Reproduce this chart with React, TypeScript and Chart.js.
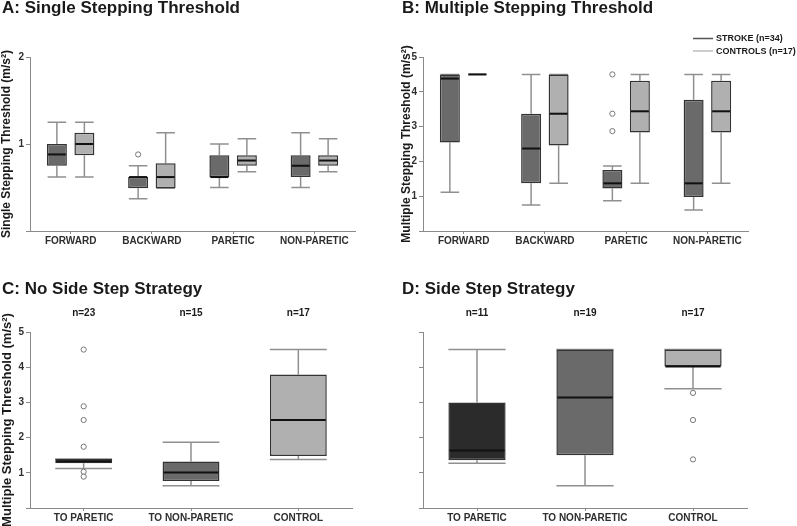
import React, { useEffect, useRef } from 'react';
import { Chart, registerables } from 'chart.js';

Chart.register(...registerables);

const FONT = "'Liberation Sans', Arial, Helvetica, sans-serif";
const AXIS = '#8a8a8a';
const TEXT = '#1a1a1a';
const TICK_TEXT = '#2e2e2e';
const WHISKER = '#909090';
const BOX_BORDER = '#333333';
const STROKE_FILL = '#6a6a6a';
const CONTROL_FILL = '#b0b0b0';
const BLACK_FILL = '#2b2b2b';

// ---------- DATA: each box is [min, q1, median, q3, max] ----------
const A_CATEGORIES = ['FORWARD', 'BACKWARD', 'PARETIC', 'NON-PARETIC'];
const A_STROKE = [
  [0.62, 0.75, 0.88, 1.0, 1.25],
  [0.37, 0.49, 0.62, 0.62, 0.75],
  [0.5, 0.62, 0.62, 0.87, 1.0],
  [0.5, 0.62, 0.75, 0.87, 1.13],
];
const A_STROKE_OUTLIERS = [[], [0.88], [], []];
const A_CONTROLS = [
  [0.62, 0.87, 1.0, 1.13, 1.25],
  [0.49, 0.49, 0.62, 0.78, 1.13],
  [0.68, 0.75, 0.81, 0.87, 1.06],
  [0.68, 0.75, 0.81, 0.87, 1.06],
];
const A_CONTROLS_OUTLIERS = [[], [], [], []];

const B_CATEGORIES = ['FORWARD', 'BACKWARD', 'PARETIC', 'NON-PARETIC'];
const B_STROKE = [
  [1.11, 2.54, 4.38, 4.5, 4.5],
  [0.75, 1.37, 2.37, 3.37, 4.5],
  [0.87, 1.22, 1.37, 1.75, 1.87],
  [0.6, 0.98, 1.37, 3.77, 4.5],
];
const B_STROKE_OUTLIERS = [[], [], [4.5, 3.37, 2.87], []];
const B_CONTROLS = [
  [4.5, 4.5, 4.5, 4.5, 4.5],
  [1.37, 2.46, 3.37, 4.5, 4.5],
  [1.37, 2.83, 3.44, 4.32, 4.5],
  [1.37, 2.83, 3.44, 4.32, 4.5],
];
const B_CONTROLS_OUTLIERS = [[], [], [], []];

const LEGEND_LABELS = ['STROKE (n=34)', 'CONTROLS (n=17)'];

const C_CATEGORIES = ['TO PARETIC', 'TO NON-PARETIC', 'CONTROL'];
const C_COUNTS = ['n=23', 'n=15', 'n=17'];
const C_BOXES = [
  [1.12, 1.27, 1.33, 1.39, 1.39],
  [0.63, 0.77, 1.01, 1.32, 1.87],
  [1.38, 1.48, 2.5, 3.79, 4.5],
];
const C_OUTLIERS = [[4.5, 2.89, 2.5, 1.74, 1.03, 0.89], [], []];

const D_CATEGORIES = ['TO PARETIC', 'TO NON-PARETIC', 'CONTROL'];
const D_COUNTS = ['n=11', 'n=19', 'n=17'];
const D_BOXES = [
  [1.27, 1.36, 1.63, 3.0, 4.5],
  [0.63, 1.5, 3.14, 4.5, 4.5],
  [3.39, 4.02, 4.02, 4.5, 4.5],
];
const D_OUTLIERS = [[], [], [3.27, 2.5, 1.38]];

// ---------- plugins ----------
const boxPlugin = {
  id: 'boxWhisker',
  beforeDatasetsDraw(chart: any) {
    const { ctx } = chart;
    const ys = chart.scales.y;
    chart.data.datasets.forEach((ds: any, i: number) => {
      const meta = chart.getDatasetMeta(i);
      ds.stats.forEach((s: number[], j: number) => {
        const el: any = meta.data[j];
        if (!el) return;
        const x = el.x;
        const w = el.width * (ds.capRatio || 1);
        const pMin = ys.getPixelForValue(s[0]);
        const pQ1 = ys.getPixelForValue(s[1]);
        const pQ3 = ys.getPixelForValue(s[3]);
        const pMax = ys.getPixelForValue(s[4]);
        ctx.save();
        ctx.strokeStyle = WHISKER;
        ctx.lineWidth = 1.5;
        ctx.beginPath();
        ctx.moveTo(x, pQ3);
        ctx.lineTo(x, pMax);
        ctx.moveTo(x - w / 2, pMax);
        ctx.lineTo(x + w / 2, pMax);
        ctx.moveTo(x, pQ1);
        ctx.lineTo(x, pMin);
        ctx.moveTo(x - w / 2, pMin);
        ctx.lineTo(x + w / 2, pMin);
        ctx.stroke();
        ctx.restore();
      });
    });
  },
  afterDatasetsDraw(chart: any) {
    const { ctx } = chart;
    const ys = chart.scales.y;
    chart.data.datasets.forEach((ds: any, i: number) => {
      const meta = chart.getDatasetMeta(i);
      ds.stats.forEach((s: number[], j: number) => {
        const el: any = meta.data[j];
        if (!el) return;
        const x = el.x;
        const w = el.width;
        const pMed = ys.getPixelForValue(s[2]);
        ctx.save();
        ctx.strokeStyle = '#111111';
        ctx.lineWidth = 2;
        ctx.beginPath();
        ctx.moveTo(x - w / 2 + 1, pMed);
        ctx.lineTo(x + w / 2 - 1, pMed);
        ctx.stroke();
        const outs: number[] = (ds.outliers && ds.outliers[j]) || [];
        ctx.strokeStyle = '#777777';
        ctx.fillStyle = '#ffffff';
        ctx.lineWidth = 1;
        outs.forEach((v) => {
          ctx.beginPath();
          ctx.arc(x, ys.getPixelForValue(v), 2.6, 0, Math.PI * 2);
          ctx.fill();
          ctx.stroke();
        });
        ctx.restore();
      });
    });
  },
};

const lineLegendPlugin = {
  id: 'lineLegend',
  afterDraw(chart: any, _args: any, opts: any) {
    if (!opts || !opts.show) return;
    const { ctx, chartArea } = chart;
    chart.data.datasets.forEach((ds: any, i: number) => {
      const yy = chartArea.top - 18.5 + i * 12.5;
      const x0 = chartArea.right - 55;
      ctx.save();
      ctx.strokeStyle = ds.legendColor;
      ctx.lineWidth = 1.5;
      ctx.beginPath();
      ctx.moveTo(x0, yy);
      ctx.lineTo(x0 + 20, yy);
      ctx.stroke();
      ctx.fillStyle = TEXT;
      ctx.font = `bold 9px ${FONT}`;
      ctx.textBaseline = 'middle';
      ctx.textAlign = 'left';
      ctx.fillText(ds.label, x0 + 23, yy + 0.5);
      ctx.restore();
    });
  },
};

// ---------- config helpers ----------
function yScale(max: number, showLabels: boolean, width: number, title?: string, titleSize = 12) {
  return {
    type: 'linear',
    min: 0,
    max,
    ticks: {
      stepSize: 1,
      color: TICK_TEXT,
      padding: 2,
      font: { size: 10, weight: 'bold', family: FONT },
      callback: (v: any) => (showLabels && v !== 0 ? String(v) : ''),
    },
    grid: { display: true, drawOnChartArea: false, drawTicks: true, tickLength: 4, color: AXIS },
    border: { display: true, color: AXIS, width: 1 },
    title: title
      ? {
          display: true,
          text: title,
          color: TEXT,
          font: { size: titleSize, weight: 'bold', family: FONT, lineHeight: 1 },
          padding: { top: -1, bottom: 0 },
        }
      : { display: false },
    afterFit: (s: any) => {
      s.width = width;
    },
  };
}

function xScale(height: number) {
  return {
    type: 'category',
    offset: true,
    ticks: {
      color: TICK_TEXT,
      padding: 1.5,
      maxRotation: 0,
      autoSkip: false,
      font: { size: 10, weight: 'bold', family: FONT },
    },
    grid: { display: true, offset: false, drawOnChartArea: false, drawTicks: true, tickLength: 3, color: AXIS },
    border: { display: true, color: AXIS, width: 1 },
    afterFit: (s: any) => {
      s.height = height;
    },
  };
}

function countScale(labels: string[], height: number) {
  return {
    type: 'category',
    position: 'top',
    labels,
    offset: true,
    ticks: {
      color: TEXT,
      padding: 12.5,
      maxRotation: 0,
      autoSkip: false,
      font: { size: 10, weight: 'bold', family: FONT },
    },
    grid: { display: false, drawTicks: false },
    border: { display: false },
    afterFit: (s: any) => {
      s.height = height;
    },
  };
}

function titleOpts(text: string, bottom: number) {
  return {
    display: true,
    text,
    align: 'start',
    color: TEXT,
    font: { size: 17, weight: 'bold', family: FONT, lineHeight: 0.8 },
    padding: { top: 2, bottom },
  };
}

function groupedConfig(
  title: string,
  categories: string[],
  stroke: number[][],
  strokeOut: number[][],
  controls: number[][],
  controlsOut: number[][],
  yMax: number,
  yTitle: string,
  yWidth: number,
  padRight: number,
  showLegend: boolean
) {
  return {
    type: 'bar',
    data: {
      labels: categories,
      datasets: [
        {
          label: LEGEND_LABELS[0],
          data: stroke.map((s) => [s[1], s[3]]),
          stats: stroke,
          outliers: strokeOut,
          capRatio: 0.93,
          legendColor: '#555555',
          backgroundColor: STROKE_FILL,
          borderColor: BOX_BORDER,
          borderWidth: 1.5,
          borderSkipped: false,
          categoryPercentage: 0.677,
          barPercentage: 0.727,
        },
        {
          label: LEGEND_LABELS[1],
          data: controls.map((s) => [s[1], s[3]]),
          stats: controls,
          outliers: controlsOut,
          capRatio: 0.93,
          legendColor: '#bdbdbd',
          backgroundColor: CONTROL_FILL,
          borderColor: BOX_BORDER,
          borderWidth: 1.5,
          borderSkipped: false,
          categoryPercentage: 0.677,
          barPercentage: 0.727,
        },
      ],
    },
    options: {
      responsive: false,
      maintainAspectRatio: false,
      animation: false,
      layout: { padding: { left: 2, right: padRight, top: 0, bottom: 0 } },
      scales: {
        x: xScale(31),
        y: yScale(yMax, yWidth > 0, yWidth, yTitle, 12),
      },
      plugins: {
        legend: { display: false },
        tooltip: { enabled: false },
        title: titleOpts(title, 41.4),
        lineLegend: { show: showLegend },
      },
    },
    plugins: [boxPlugin, lineLegendPlugin],
  };
}

function singleConfig(
  title: string,
  categories: string[],
  counts: string[],
  boxes: number[][],
  outliers: number[][],
  showYLabels: boolean,
  yTitle: string | undefined,
  yWidth: number,
  padRight: number
) {
  return {
    type: 'bar',
    data: {
      labels: categories,
      datasets: [
        {
          label: 'boxes',
          data: boxes.map((s) => [s[1], s[3]]),
          stats: boxes,
          outliers,
          capRatio: 1,
          backgroundColor: [BLACK_FILL, STROKE_FILL, CONTROL_FILL],
          borderColor: BOX_BORDER,
          borderWidth: 1.5,
          borderSkipped: false,
          categoryPercentage: 1,
          barPercentage: 0.53,
          xAxisID: 'x',
          yAxisID: 'y',
        },
      ],
    },
    options: {
      responsive: false,
      maintainAspectRatio: false,
      animation: false,
      layout: { padding: { left: 2, right: padRight, top: 0, bottom: 0 } },
      scales: {
        x: xScale(18),
        x2: countScale(counts, 27.4),
        y: yScale(5, showYLabels, yWidth, yTitle, 13),
      },
      plugins: {
        legend: { display: false },
        tooltip: { enabled: false },
        title: titleOpts(title, 8),
        lineLegend: { show: false },
      },
    },
    plugins: [boxPlugin, lineLegendPlugin],
  };
}

function ChartPanel({ left, top, width, height, build }: any) {
  const ref = useRef<HTMLCanvasElement | null>(null);
  useEffect(() => {
    if (!ref.current) return;
    const chart = new Chart(ref.current, build() as any);
    return () => chart.destroy();
  }, []);
  return (
    <canvas
      ref={ref}
      width={width}
      height={height}
      style={{ position: 'absolute', left, top, width, height }}
    />
  );
}

export default function App() {
  return (
    <div
      style={{
        position: 'fixed',
        left: 0,
        top: 0,
        width: 797,
        height: 526,
        background: '#ffffff',
        overflow: 'hidden',
      }}
    >
      <ChartPanel
        left={0}
        top={0}
        width={397}
        height={262}
        build={() =>
          groupedConfig(
            'A: Single Stepping Threshold',
            A_CATEGORIES,
            A_STROKE,
            A_STROKE_OUTLIERS,
            A_CONTROLS,
            A_CONTROLS_OUTLIERS,
            2,
            'Single Stepping Threshold (m/s²)',
            28,
            42,
            false
          )
        }
      />
      <ChartPanel
        left={400}
        top={0}
        width={397}
        height={262}
        build={() =>
          groupedConfig(
            'B: Multiple Stepping Threshold',
            B_CATEGORIES,
            B_STROKE,
            B_STROKE_OUTLIERS,
            B_CONTROLS,
            B_CONTROLS_OUTLIERS,
            5,
            'Multiple Stepping Threshold (m/s²)',
            21,
            49,
            true
          )
        }
      />
      <ChartPanel
        left={0}
        top={281}
        width={397}
        height={245}
        build={() =>
          singleConfig(
            'C: No Side Step Strategy',
            C_CATEGORIES,
            C_COUNTS,
            C_BOXES,
            C_OUTLIERS,
            true,
            'Multiple Stepping Threshold (m/s²)',
            28,
            45
          )
        }
      />
      <ChartPanel
        left={400}
        top={281}
        width={397}
        height={245}
        build={() =>
          singleConfig(
            'D: Side Step Strategy',
            D_CATEGORIES,
            D_COUNTS,
            D_BOXES,
            D_OUTLIERS,
            false,
            undefined,
            21,
            50
          )
        }
      />
    </div>
  );
}
